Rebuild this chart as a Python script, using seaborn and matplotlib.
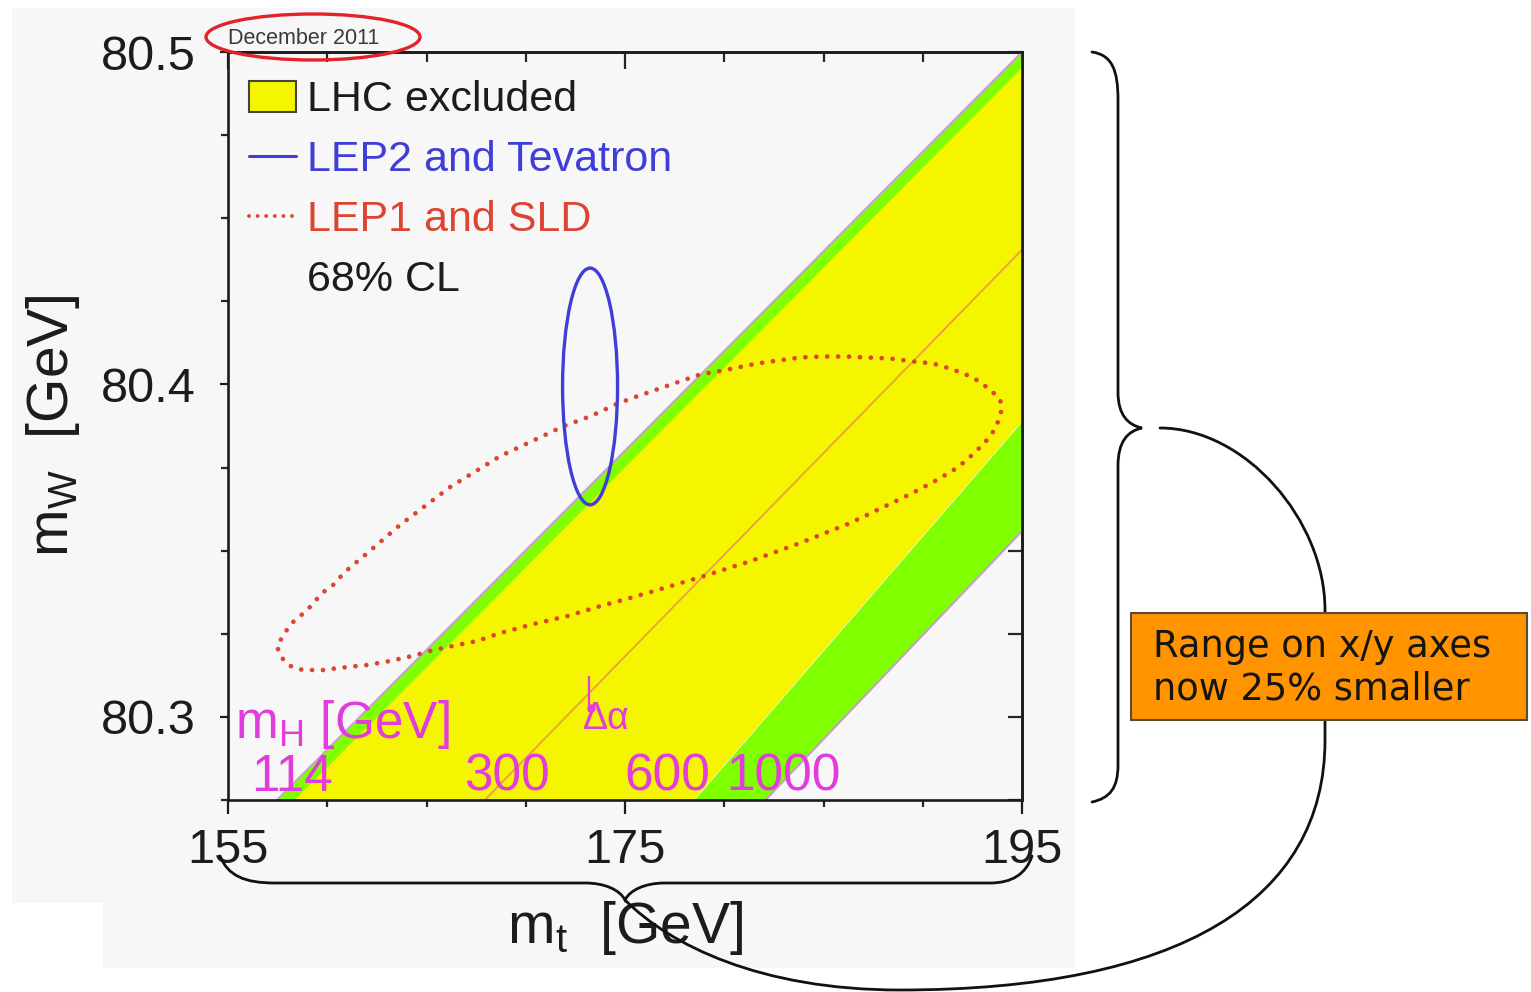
import numpy as np
import pandas as pd
import matplotlib
matplotlib.use("Agg")
import matplotlib.pyplot as plt
import seaborn as sns
from matplotlib.patches import Ellipse, Rectangle, PathPatch, Polygon, Patch
from matplotlib.path import Path
from matplotlib.lines import Line2D

# ---------------------------------------------------------------------------
# Data
# ---------------------------------------------------------------------------
# SM prediction of mW vs mt for fixed Higgs masses: mW at mt = 155 and 195 GeV
band_mt = [155.0, 195.0]
mw_mh114 = [80.2602, 80.5000]
mw_mh127 = [80.2548, 80.4952]
mw_mh300 = [80.1959, 80.4405]
mw_mh600 = [80.1133, 80.3889]
mw_mh1000 = [80.1055, 80.3559]

# Direct measurements (LEP2 and Tevatron), 68% CL
direct_mt = 173.24
direct_mw = 80.3994
direct_mt_halfwidth = 1.385
direct_mw_halfwidth = 0.0356

# Indirect determination (LEP1 and SLD), 68% CL contour
indirect_mt = [157.52, 157.77, 158.22, 158.78, 159.79, 161.00, 162.00, 163.16,
               164.27, 165.33, 166.54, 167.54, 168.70, 170.37, 172.08, 173.74,
               175.40, 176.26, 178.78, 181.30, 183.82, 186.34, 188.85, 189.86,
               190.87, 191.78, 192.53, 193.14, 193.64, 193.89, 193.99,
               193.89, 193.39, 192.53, 191.52, 190.52, 189.51, 188.35, 187.24,
               186.08, 184.97, 183.82, 182.71, 181.65, 180.44, 179.38, 178.78,
               175.60, 174.65, 173.24, 171.88, 170.72, 168.70, 166.18, 163.66,
               161.65, 161.15, 160.64, 160.24, 159.79, 159.38, 159.03, 158.63,
               158.27, 157.92, 157.67, 157.52]
indirect_mw = [80.3204, 80.3174, 80.3150, 80.3141, 80.3141, 80.3150, 80.3156, 80.3168,
               80.3183, 80.3201, 80.3216, 80.3228, 80.3252, 80.3279, 80.3303, 80.3333,
               80.3360, 80.3375, 80.3420, 80.3468, 80.3523, 80.3583, 80.3655, 80.3685,
               80.3718, 80.3751, 80.3790, 80.3826, 80.3865, 80.3904, 80.3931,
               80.3955, 80.3985, 80.4021, 80.4045, 80.4063, 80.4069, 80.4078, 80.4081,
               80.4084, 80.4084, 80.4081, 80.4072, 80.4063, 80.4048, 80.4036, 80.4030,
               80.3964, 80.3943, 80.3904, 80.3874, 80.3841, 80.3784, 80.3691, 80.3577,
               80.3474, 80.3450, 80.3420, 80.3393, 80.3375, 80.3348, 80.3324, 80.3303,
               80.3285, 80.3258, 80.3234, 80.3204]

# Axis ticks and labels
x_ticks = [155, 175, 195]
y_ticks = [80.3, 80.4, 80.5]
legend_labels = ["LHC excluded", "LEP2 and Tevatron", "LEP1 and SLD", "68% CL"]
mh_labels = ["114", "300", "600", "1000"]

# ---------------------------------------------------------------------------
# Style
# ---------------------------------------------------------------------------
YELLOW = "#f5f500"
GREEN = "#80ff00"
BLUE = "#3f3fd8"
RED = "#dc4532"
MAGENTA = "#e23ddc"
ORANGE_LINE = "#e9a040"
EDGE_PURPLE = "#c99bd0"
PANEL = "#f7f7f7"
INK = "#1c1c1c"

sns.set_theme(style="ticks")
plt.rcParams["font.family"] = ["Liberation Sans", "DejaVu Sans"]
plt.rcParams.update({
    "mathtext.fontset": "custom",
    "mathtext.rm": "Liberation Sans",
    "mathtext.it": "Liberation Sans:italic",
    "mathtext.bf": "Liberation Sans:bold",
    "mathtext.fallback": "cm",
    "axes.linewidth": 1.9,
    "axes.edgecolor": INK,
})

W, H = 1531, 992
fig = plt.figure(figsize=(W / 100, H / 100), dpi=100)
fig.patch.set_facecolor("white")


def fx(x):
    return x / W


def fy(y):
    return 1 - y / H


# light panel behind the plot
panel = Polygon([(fx(12), fy(8)), (fx(1075), fy(8)), (fx(1075), fy(968)),
                 (fx(103), fy(968)), (fx(103), fy(903)), (fx(12), fy(903))],
                closed=True, transform=fig.transFigure, facecolor=PANEL,
                edgecolor="none", zorder=-10)
fig.add_artist(panel)

ax = fig.add_axes([fx(228), fy(800), fx(1022) - fx(228), fy(52) - fy(800)])
ax.set_facecolor(PANEL)
ax.set_xlim(155, 195)
ax.set_ylim(80.275, 80.5)

# ---------------------------------------------------------------------------
# Bands of the SM prediction
# ---------------------------------------------------------------------------
ax.fill_between(band_mt, mw_mh127, mw_mh114, color=GREEN, lw=0, zorder=1)
ax.fill_between(band_mt, mw_mh600, mw_mh127, color=YELLOW, lw=0, zorder=1)
ax.fill_between(band_mt, mw_mh1000, mw_mh600, color=GREEN, lw=0, zorder=1)

lines = pd.DataFrame({
    "mt": band_mt * 3,
    "mw": mw_mh114 + mw_mh300 + mw_mh1000,
    "mh": ["114"] * 2 + ["300"] * 2 + ["1000"] * 2,
})
sns.lineplot(data=lines[lines.mh == "114"], x="mt", y="mw", color=EDGE_PURPLE,
             lw=1.4, ax=ax, zorder=2)
sns.lineplot(data=lines[lines.mh == "1000"], x="mt", y="mw", color=EDGE_PURPLE,
             lw=1.4, ax=ax, zorder=2)
sns.lineplot(data=lines[lines.mh == "300"], x="mt", y="mw", color=ORANGE_LINE,
             lw=1.3, ax=ax, zorder=2)

# ---------------------------------------------------------------------------
# Contours
# ---------------------------------------------------------------------------
sns.lineplot(x=indirect_mt, y=indirect_mw, sort=False, estimator=None,
             color=RED, lw=3.4, ax=ax, zorder=4)
red_line = ax.lines[-1]
red_line.set_linestyle((0, (0.01, 2.3)))
red_line.set_dash_capstyle("round")

ax.add_patch(Ellipse((direct_mt, direct_mw), 2 * direct_mt_halfwidth,
                     2 * direct_mw_halfwidth, fill=False, edgecolor=BLUE,
                     lw=2.4, zorder=5))

# ---------------------------------------------------------------------------
# Higgs-mass annotations
# ---------------------------------------------------------------------------
ax.text(155.35, 80.2978, r"$\mathrm{m_H}$ [GeV]", color=MAGENTA, fontsize=37,
        ha="left", va="center", zorder=6)
for lab, xpos in zip(mh_labels, [158.22, 169.06, 177.12, 182.96]):
    ax.text(xpos, 80.2818, lab, color=MAGENTA, fontsize=37, ha="center",
            va="center", zorder=6)
ax.plot([173.2, 173.2], [80.3018, 80.3120], color=MAGENTA, lw=1.6, zorder=6)
ax.plot([173.3], [80.3026], marker="o", ms=5, color=MAGENTA, zorder=6)
ax.text(174.05, 80.2993, "Δα", color=MAGENTA, fontsize=27,
        ha="center", va="center", zorder=6)

# ---------------------------------------------------------------------------
# Legend
# ---------------------------------------------------------------------------
handles = [
    Patch(facecolor=YELLOW, edgecolor="#444444", linewidth=1.5),
    Line2D([], [], color=BLUE, lw=2.2),
    Line2D([], [], color=RED, lw=2.8, linestyle=(0, (0.01, 2.2)),
           dash_capstyle="round"),
    Line2D([], [], color="none"),
]
leg = ax.legend(handles, legend_labels, loc="upper left",
                bbox_to_anchor=(0.026, 0.962), frameon=False, fontsize=31,
                handlelength=1.1, handleheight=0.75, handletextpad=0.25,
                labelspacing=0.46, borderpad=0, borderaxespad=0)
for t, c in zip(leg.get_texts(), [INK, BLUE, RED, INK]):
    t.set_color(c)

# ---------------------------------------------------------------------------
# Axes, ticks, labels
# ---------------------------------------------------------------------------
ax.set_xticks(x_ticks)
ax.set_xticks(np.arange(155, 196, 5), minor=True)
ax.set_yticks(y_ticks)
ax.set_yticks(np.arange(80.275, 80.501, 0.025), minor=True)
ax.set_xticklabels([str(v) for v in x_ticks])
ax.set_yticklabels([f"{v:.1f}" for v in y_ticks])
ax.tick_params(axis="x", which="major", direction="out", length=10, width=1.6,
               labelsize=35, pad=10, colors=INK)
ax.tick_params(axis="x", which="minor", direction="out", length=5, width=1.6)
ax.tick_params(axis="y", which="major", direction="out", length=6, width=1.6,
               labelsize=35, pad=17, colors=INK)
ax.tick_params(axis="y", which="minor", direction="out", length=5, width=1.6)
for spine in ax.spines.values():
    spine.set_visible(True)
    spine.set_zorder(10)

secx = ax.secondary_xaxis("top")
secx.set_xticks(x_ticks)
secx.set_xticks(np.arange(155, 196, 5), minor=True)
secx.tick_params(axis="x", which="major", direction="in", length=12, width=1.6,
                 labeltop=False)
secx.tick_params(axis="x", which="minor", direction="in", length=7, width=1.6)
secy = ax.secondary_yaxis("right")
secy.set_yticks(y_ticks)
secy.set_yticks(np.arange(80.275, 80.501, 0.025), minor=True)
secy.tick_params(axis="y", which="both", direction="in", length=10, width=1.6,
                 labelright=False)

ax.set_xlabel(r"$\mathrm{m_t}$  [GeV]", fontsize=41, color=INK, labelpad=19)
ax.set_ylabel(r"$\mathrm{m_W}$  [GeV]", fontsize=41, color=INK, labelpad=14)

# ---------------------------------------------------------------------------
# Date stamp with highlight ring
# ---------------------------------------------------------------------------
fig.text(fx(228), fy(38), "December 2011", fontsize=15.5, color="#3a3a3a",
         ha="left", va="center")
fig.add_artist(Ellipse((fx(313), fy(37)), 214 / W, 46 / H,
                       transform=fig.transFigure, fill=False,
                       edgecolor="#e3232b", lw=2.4, zorder=5))

# ---------------------------------------------------------------------------
# Braces, connector and note
# ---------------------------------------------------------------------------
def fig_path(segments):
    verts, codes = [], []
    for code, pts in segments:
        for p in pts:
            verts.append((fx(p[0]), fy(p[1])))
            codes.append(code)
    return Path(verts, codes)


M, L, C = Path.MOVETO, Path.LINETO, Path.CURVE4

right_brace = fig_path([
    (M, [(1092, 52)]),
    (C, [(1112, 55), (1118, 70), (1118, 100)]),
    (L, [(1118, 392)]),
    (C, [(1118, 415), (1128, 425), (1142, 428)]),
    (C, [(1128, 431), (1118, 441), (1118, 466)]),
    (L, [(1118, 765)]),
    (C, [(1118, 788), (1110, 798), (1092, 802)]),
])
bottom_brace = fig_path([
    (M, [(220, 856)]),
    (C, [(228, 876), (245, 883), (275, 883)]),
    (L, [(585, 883)]),
    (C, [(605, 883), (620, 890), (625, 900)]),
    (C, [(630, 890), (645, 883), (665, 883)]),
    (L, [(990, 883)]),
    (C, [(1012, 883), (1026, 874), (1032, 856)]),
])
connector = fig_path([
    (M, [(1160, 428)]),
    (C, [(1245, 428), (1325, 520), (1325, 610)]),
    (L, [(1325, 740)]),
    (C, [(1325, 900), (1180, 990), (900, 990)]),
    (C, [(760, 990), (670, 945), (625, 900)]),
])
for p in (right_brace, bottom_brace, connector):
    fig.add_artist(PathPatch(p, transform=fig.transFigure, fill=False,
                             edgecolor="#111111", lw=2.0, zorder=6,
                             capstyle="round"))

fig.add_artist(Rectangle((fx(1131), fy(720)), fx(1527) - fx(1131), 107 / H,
                         transform=fig.transFigure, facecolor="#ff9300",
                         edgecolor="#5a4a3a", lw=1.5, zorder=7))
fig.text(fx(1153), fy(668), "Range on x/y axes\nnow 25% smaller",
         fontsize=26.5, family="DejaVu Sans", color="#151515", ha="left",
         va="center", linespacing=1.2, zorder=8)

fig.savefig("out.png", dpi=100, facecolor="white")
